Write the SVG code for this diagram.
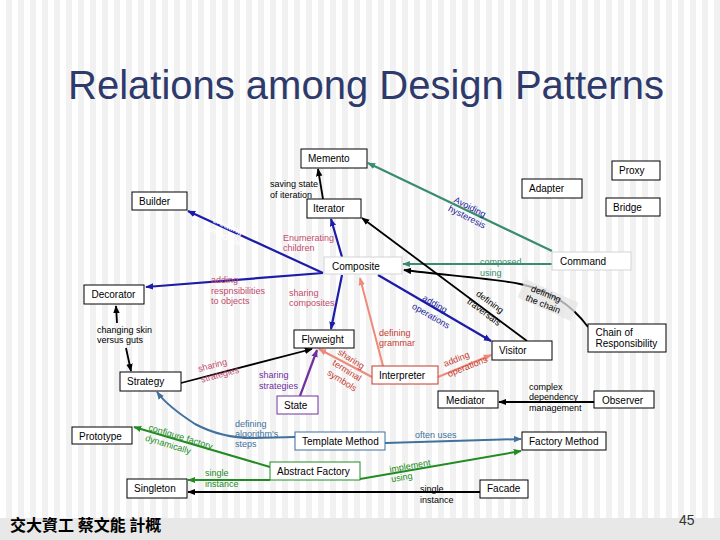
<svg xmlns="http://www.w3.org/2000/svg" width="720" height="540" viewBox="0 0 720 540">
<defs>
<pattern id="stripes" width="12" height="10" patternUnits="userSpaceOnUse">
<rect width="12" height="10" fill="#ffffff"/>
<rect x="6" width="6" height="10" fill="#f1f1f1"/>
</pattern>
<marker id="mK" viewBox="0 0 10 10" refX="9" refY="5" markerWidth="8" markerHeight="8" markerUnits="userSpaceOnUse" orient="auto"><path d="M0,1 L10,5 L0,9 z" fill="#000000"/></marker>
<marker id="mB" viewBox="0 0 10 10" refX="9" refY="5" markerWidth="8" markerHeight="8" markerUnits="userSpaceOnUse" orient="auto"><path d="M0,1 L10,5 L0,9 z" fill="#1c1ca8"/></marker>
<marker id="mT" viewBox="0 0 10 10" refX="9" refY="5" markerWidth="8" markerHeight="8" markerUnits="userSpaceOnUse" orient="auto"><path d="M0,1 L10,5 L0,9 z" fill="#3b8c6e"/></marker>
<marker id="mS" viewBox="0 0 10 10" refX="9" refY="5" markerWidth="8" markerHeight="8" markerUnits="userSpaceOnUse" orient="auto"><path d="M0,1 L10,5 L0,9 z" fill="#ee8a7a"/></marker>
<marker id="mP" viewBox="0 0 10 10" refX="9" refY="5" markerWidth="8" markerHeight="8" markerUnits="userSpaceOnUse" orient="auto"><path d="M0,1 L10,5 L0,9 z" fill="#7030a0"/></marker>
<marker id="mL" viewBox="0 0 10 10" refX="9" refY="5" markerWidth="8" markerHeight="8" markerUnits="userSpaceOnUse" orient="auto"><path d="M0,1 L10,5 L0,9 z" fill="#41719c"/></marker>
<marker id="mG" viewBox="0 0 10 10" refX="9" refY="5" markerWidth="8" markerHeight="8" markerUnits="userSpaceOnUse" orient="auto"><path d="M0,1 L10,5 L0,9 z" fill="#228b22"/></marker>
</defs>
<style>
.node rect{fill:#ffffff;stroke:#000000;stroke-width:1}
.node text{font-family:"Liberation Sans",Arial,sans-serif;font-size:10px;fill:#000000}
.faint rect{stroke:#d4d4d4}
.c{fill:none}
.k{stroke:#000000;stroke-width:1.8;marker-end:url(#mK)}
.b{stroke:#1c1ca8;stroke-width:2.2;marker-end:url(#mB)}
.t{stroke:#3b8c6e;stroke-width:2.2;marker-end:url(#mT)}
.s{stroke:#ee8a7a;stroke-width:2;marker-end:url(#mS)}
.p{stroke:#7030a0;stroke-width:2.2;marker-end:url(#mP)}
.l{stroke:#41719c;stroke-width:2;marker-end:url(#mL)}
.g{stroke:#228b22;stroke-width:2;marker-end:url(#mG)}
.lbl text{font-family:"Liberation Sans",Arial,sans-serif;font-size:9px}
.pink{fill:#c24a6b}
.dred{fill:#c53a30}
.navy{fill:#1a1a9a}
.teal{fill:#3b8c6e}
.purp{fill:#7030a0}
.steel{fill:#41719c}
.grn{fill:#228b22}
.blk{fill:#000000}
.wht{fill:#ffffff}
</style>
<rect width="720" height="540" fill="url(#stripes)"/>
<rect y="518" width="720" height="22" fill="#e8e8e8"/>
<text x="68" y="99" font-family="'Liberation Sans',Arial,sans-serif" font-size="40" fill="#2e3a6b">Relations among Design Patterns</text>
<text x="10" y="531" font-family="'Noto Sans CJK TC','Noto Sans CJK SC',sans-serif" font-size="16" font-weight="bold" fill="#000">交大資工 蔡文能 計概</text>
<text x="679" y="525" font-family="'Liberation Sans',Arial,sans-serif" font-size="14" fill="#333">45</text>

<g id="connectors">
<path class="c k" d="M323,199 L318,169"/>
<path class="c t" d="M552,251 L368,163"/>
<path class="c t" d="M552,264 L403,264"/>
<path class="c k" d="M588,327 C572,305 548,290 520,284 C490,278 440,275 404,270"/>
<path class="c k" d="M527,341 L362,218"/>
<path class="c b" d="M342,257 L331,219"/>
<path class="c b" d="M323,273 L188,211"/>
<path class="c b" d="M323,273 L146,287"/>
<path class="c b" d="M342,275 L331,329"/>
<path class="c b" d="M378,275 L491,341"/>
<path class="c s" d="M383,366 L360,278"/>
<path class="c s" d="M372,377 L319,349"/>
<path class="c s" d="M438,377 L491,355"/>
<path class="c k" d="M117,323 L116,306"/>
<path class="c k" d="M126,348 L131,371"/>
<path class="c k" d="M181,383 L312,349"/>
<path class="c p" d="M300,396 L317,350"/>
<path class="c l" d="M295,437 L253,438 C230,438 210,432 195,424 C178,413 165,403 157,392"/>
<path class="c l" d="M385,443 L521,439"/>
<path class="c g" d="M360,479 L521,451"/>
<path class="c g" d="M270,467 L134,427"/>
<path class="c g" d="M270,480 L188,480"/>
<path class="c k" d="M480,492 L188,492"/>
<path class="c k" d="M594,402 L499,402"/>
</g>

<g id="labels" class="lbl">
<text class="blk" x="270" y="186.5">saving state</text>
<text class="blk" x="270" y="197.5">of iteration</text>
<g transform="translate(470,207) rotate(27)"><text class="navy" x="0" y="3" text-anchor="middle">Avoiding</text></g>
<g transform="translate(467,217) rotate(27)"><text class="navy" x="0" y="3" text-anchor="middle">hysteresis</text></g>
<text class="pink" x="283" y="241">Enumerating</text>
<text class="pink" x="283" y="251">children</text>
<g transform="translate(228,226) rotate(25)"><text class="wht" x="0" y="3" text-anchor="middle">creating</text></g>
<g transform="translate(224,236) rotate(25)"><text class="wht" x="0" y="3" text-anchor="middle">composites</text></g>
<text class="teal" x="480" y="265">composed</text>
<text class="teal" x="480" y="275.5">using</text>
<rect x="519" y="290" width="58" height="20" fill="#e4e4e4" opacity="0.75" transform="rotate(24 548 300)"/>
<g transform="translate(546,294) rotate(22)"><text class="blk" x="0" y="3" text-anchor="middle">defining</text></g>
<g transform="translate(543,304) rotate(22)"><text class="blk" x="0" y="3" text-anchor="middle">the chain</text></g>
<text class="pink" x="211" y="283">adding</text>
<text class="pink" x="211" y="293.5">respnsibilities</text>
<text class="pink" x="211" y="304">to objects</text>
<text class="pink" x="289" y="296">sharing</text>
<text class="pink" x="289" y="306">composites</text>
<g transform="translate(490,302) rotate(37)"><text class="blk" x="0" y="3" text-anchor="middle">defining</text></g>
<g transform="translate(484,312) rotate(37)"><text class="blk" x="0" y="3" text-anchor="middle">traversals</text></g>
<g transform="translate(435,304) rotate(30)"><text class="navy" x="0" y="3" text-anchor="middle">adding</text></g>
<g transform="translate(431,316) rotate(30)"><text class="navy" x="0" y="3" text-anchor="middle">operations</text></g>
<text class="dred" x="379" y="336">defining</text>
<text class="dred" x="379" y="346">grammar</text>
<g transform="translate(351,359) rotate(32)"><text class="dred" x="0" y="3" text-anchor="middle">sharing</text></g>
<g transform="translate(347,370.5) rotate(32)"><text class="dred" x="0" y="3" text-anchor="middle">terminal</text></g>
<g transform="translate(342,380.5) rotate(32)"><text class="dred" x="0" y="3" text-anchor="middle">symbols</text></g>
<g transform="translate(445,367) rotate(-22)"><text class="dred" x="0" y="0">adding</text><text class="dred" x="0" y="11">operations</text></g>
<text class="blk" x="97" y="333">changing skin</text>
<text class="blk" x="97" y="343">versus guts</text>
<g transform="translate(199,372) rotate(-15)"><text class="pink" x="0" y="0">sharing</text><text class="pink" x="0" y="11">strategies</text></g>
<text class="purp" x="259" y="378">sharing</text>
<text class="purp" x="259" y="388.5">strategies</text>
<text class="blk" x="529" y="389.5">complex</text>
<text class="blk" x="529" y="400">dependency</text>
<text class="blk" x="529" y="410.5">management</text>
<text class="steel" x="235" y="426.5">defining</text>
<text class="steel" x="235" y="436.5">algorithm's</text>
<text class="steel" x="235" y="447">steps</text>
<text class="steel" x="415" y="438">often uses</text>
<g transform="translate(148,430) rotate(17)"><text class="grn" x="0" y="0">configure factory</text><text class="grn" x="0" y="11">dynamically</text></g>
<g transform="translate(390,472.5) rotate(-10)"><text class="grn" x="0" y="0">implement</text><text class="grn" x="0" y="10">using</text></g>
<text class="grn" x="205" y="476">single</text>
<text class="grn" x="205" y="486.5">instance</text>
<text class="blk" x="420" y="491.5">single</text>
<text class="blk" x="420" y="503">instance</text>
</g>

<g id="memento" class="node"><rect x="301" y="149" width="66" height="19"/><text x="308" y="162">Memento</text></g>
<g id="proxy" class="node"><rect x="612" y="161" width="48" height="19"/><text x="619" y="174">Proxy</text></g>
<g id="adapter" class="node"><rect x="522" y="179" width="60" height="19"/><text x="529" y="192">Adapter</text></g>
<g id="builder" class="node"><rect x="132" y="192" width="55" height="18"/><text x="139" y="204.5">Builder</text></g>
<g id="bridge" class="node"><rect x="606" y="198" width="54" height="18"/><text x="613" y="211">Bridge</text></g>
<g id="iterator" class="node"><rect x="307" y="199" width="54" height="19"/><text x="313" y="212">Iterator</text></g>
<g id="command" class="node faint"><rect x="552" y="252" width="79" height="18"/><text x="560" y="265">Command</text></g>
<g id="composite" class="node faint"><rect x="324" y="257" width="78" height="17"/><text x="332" y="270">Composite</text></g>
<g id="decorator" class="node"><rect x="84" y="285" width="60" height="19"/><text x="91.5" y="298">Decorator</text></g>
<g id="chain" class="node"><rect x="588" y="324" width="78" height="28"/><text x="595.5" y="336">Chain of</text><text x="595.5" y="346.5">Responsibility</text></g>
<g id="flyweight" class="node"><rect x="294" y="330" width="60" height="18"/><text x="301.5" y="343">Flyweight</text></g>
<g id="visitor" class="node"><rect x="492" y="341" width="60" height="19"/><text x="499" y="354">Visitor</text></g>
<g id="interpreter" class="node"><rect x="372" y="366" width="66" height="18" style="stroke:#c0392b"/><text x="379" y="378.5">Interpreter</text></g>
<g id="strategy" class="node"><rect x="120" y="372" width="61" height="19"/><text x="127" y="384.5">Strategy</text></g>
<g id="mediator" class="node"><rect x="438" y="391" width="60" height="17"/><text x="446" y="404">Mediator</text></g>
<g id="observer" class="node"><rect x="594" y="391" width="60" height="17"/><text x="602" y="404">Observer</text></g>
<g id="state" class="node"><rect x="277" y="396" width="41" height="18" style="stroke:#7030a0"/><text x="284" y="408.5">State</text></g>
<g id="prototype" class="node"><rect x="72" y="427" width="60" height="17"/><text x="79" y="439.5">Prototype</text></g>
<g id="template-method" class="node"><rect x="295" y="432" width="90" height="18" style="stroke:#41719c"/><text x="302" y="444.5">Template Method</text></g>
<g id="factory-method" class="node"><rect x="522" y="432" width="84" height="18"/><text x="529" y="445">Factory Method</text></g>
<g id="abstract-factory" class="node"><rect x="270" y="462" width="90" height="18" style="stroke:#228b22"/><text x="277" y="474.5">Abstract Factory</text></g>
<g id="singleton" class="node"><rect x="127" y="479" width="60" height="19"/><text x="134" y="492">Singleton</text></g>
<g id="facade" class="node"><rect x="480" y="480" width="48" height="18"/><text x="487" y="492">Facade</text></g>
</svg>
